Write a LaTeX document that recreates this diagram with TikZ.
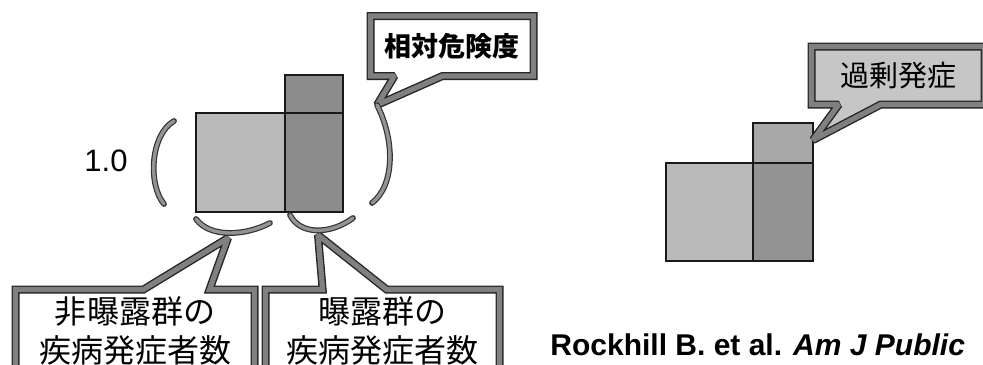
\documentclass[tikz,border=0pt]{standalone}
\usepackage{fontspec}
\setmainfont{Liberation Sans}
\newfontfamily\jpfont{Noto Sans CJK JP}
\usetikzlibrary{shapes.callouts}

\begin{document}
\begin{tikzpicture}[x=0.5pt, y=-0.5pt,
    bar/.style={draw=black!90, line width=1.1pt},
    callbox/.style={rectangle callout, draw=black!85, line width=0.7pt,
      double=gray!100, double distance=2.6pt, line join=miter, miter limit=2,
      fill=white, inner sep=1pt, align=center},
    brace/.style={draw=black!80, line width=0.6pt, double=gray!85,
      double distance=1.7pt, line cap=round}]
  \useasboundingbox (0,0) rectangle (983,364);
  \clip (0,0) rectangle (983,364);

  % Bars (left: relative risk)
  \filldraw[bar, fill=gray!55] (196,113) rectangle (285,212);
  \filldraw[bar, fill=gray!90] (285,113) rectangle (343,212);
  \filldraw[bar, fill=gray!90] (285,75) rectangle (343,113);

  % Bars (right: excess cases)
  \filldraw[bar, fill=gray!55] (666,163) rectangle (753,261);
  \filldraw[bar, fill=gray!85] (753,163) rectangle (813,261);
  \filldraw[bar, fill=gray!68] (753,123) rectangle (813,163);

  % Pointer tips
  \coordinate (rrtip) at (377,105);
  \coordinate (extip) at (813,140);
  \coordinate (ntip) at (228,238);
  \coordinate (etip) at (318,235);

  % Callouts
  \node[callbox, minimum width=81.5pt, minimum height=30pt,
    callout absolute pointer=(rrtip), callout pointer width=24pt,
    font=\jpfont\bfseries\fontsize{13.5pt}{16pt}\selectfont] (rr) at (452,46) {相対危険度};
  \node[callbox, fill=gray!45, minimum width=86.5pt, minimum height=29pt,
    callout absolute pointer=(extip), callout pointer width=21pt,
    font=\jpfont\fontsize{14.5pt}{17pt}\selectfont] (excess) at (898,75.5) {過剰発症};
  \node[callbox, minimum width=119.5pt, minimum height=41.5pt,
    callout absolute pointer=(ntip), callout pointer width=33pt,
    font=\jpfont\fontsize{16pt}{19.5pt}\selectfont] (nonexp) at (135,331) {非曝露群の\\疾病発症者数};
  \node[callbox, minimum width=117pt, minimum height=41.5pt,
    callout absolute pointer=(etip), callout pointer width=32pt,
    font=\jpfont\fontsize{16pt}{19.5pt}\selectfont] (exp) at (382.5,331) {曝露群の\\疾病発症者数};

  % Braces
  \draw[brace] (174,121) .. controls (150,135) and (148,185) .. (164,204);
  \draw[brace] (rrtip) .. controls (395,140) and (395,185) .. (372,203);
  \draw[brace] (196,219) .. controls (210,238) and (245,236) .. (270,223);
  \draw[brace] (290,215) .. controls (300,235) and (330,235) .. (353,218);

  % Labels
  \node[font=\fontsize{15.5pt}{18pt}\selectfont] (one) at (106,161) {1.0};
  \node[anchor=base west, inner sep=0pt, font=\bfseries\fontsize{15pt}{18pt}\selectfont]
    (ref) at (550,355) {Rockhill B. et al. \textit{Am J Public}};
\end{tikzpicture}
\end{document}
